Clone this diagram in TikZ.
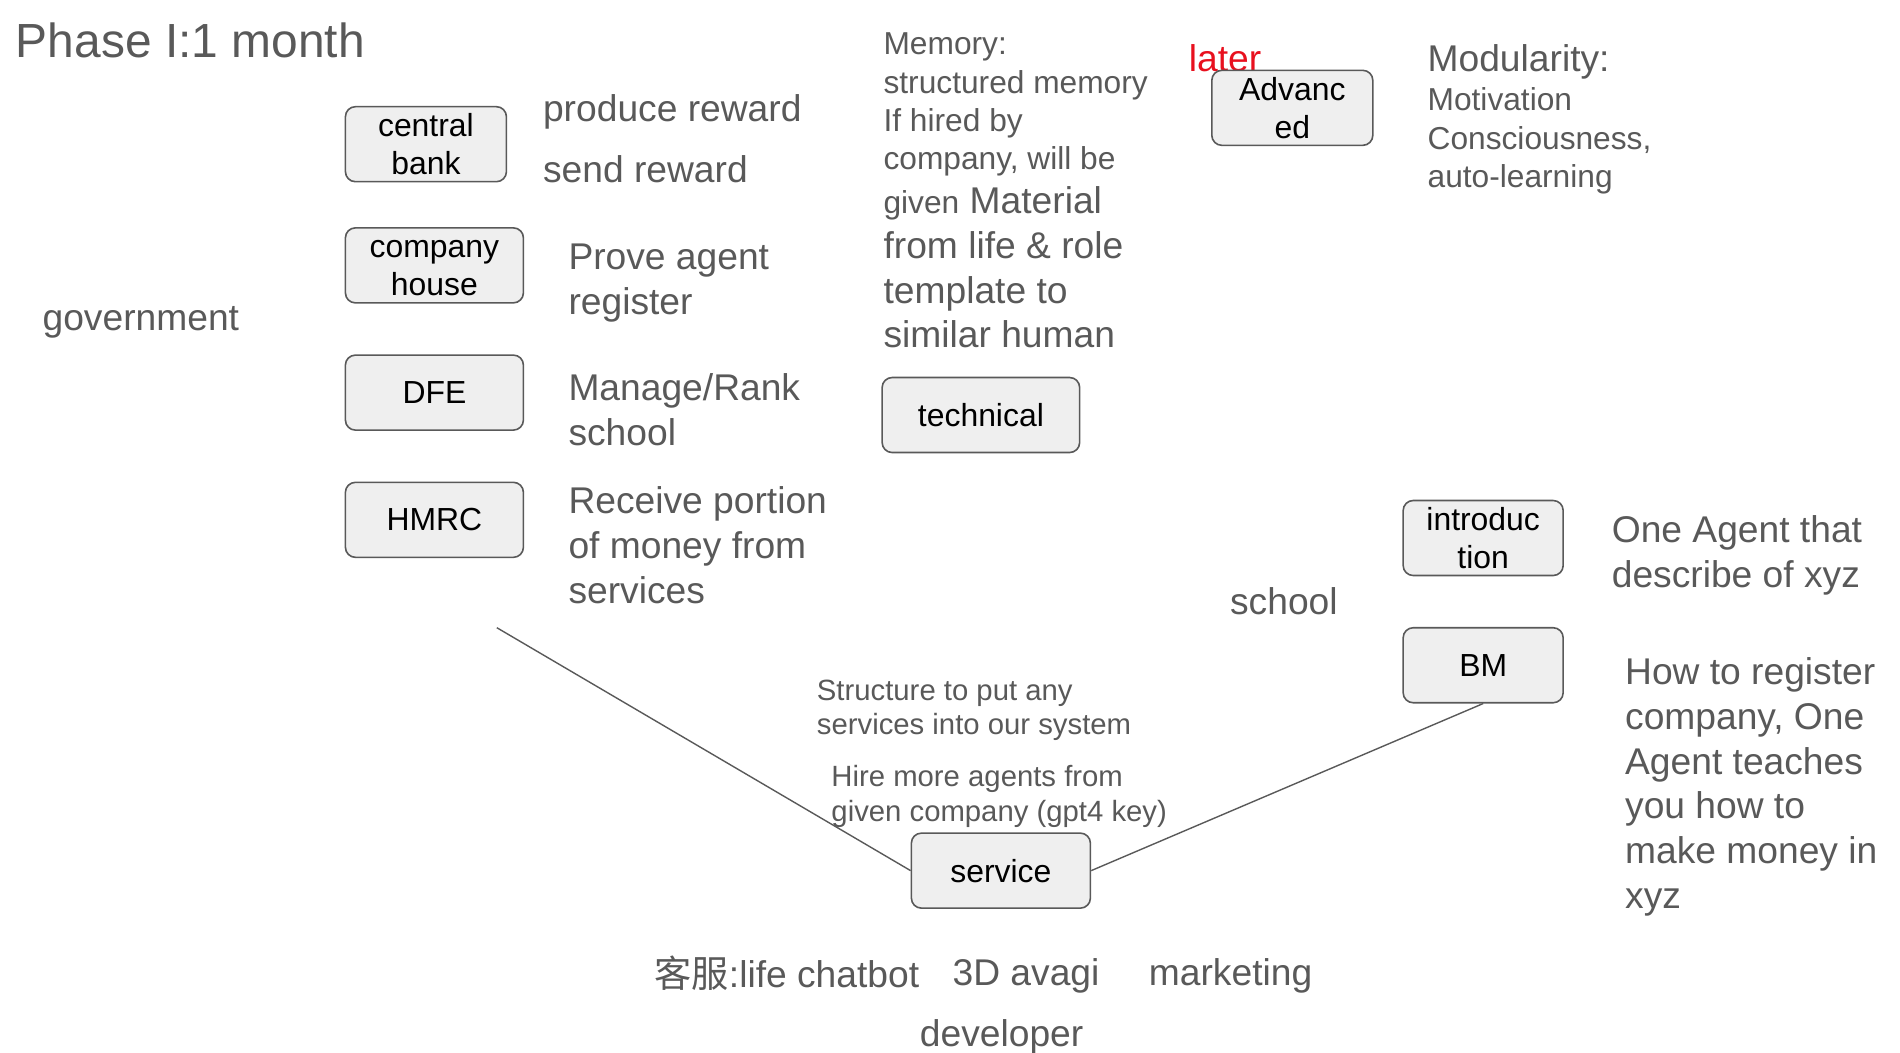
\documentclass[tikz,border=0pt]{standalone}
\usepackage{fontspec}
\setmainfont{Liberation Sans}
\newfontfamily\cjk{Noto Sans CJK SC}
\usepackage{tikz}

\definecolor{txtgray}{HTML}{595959}
\definecolor{boxfill}{HTML}{EFEFEF}
\definecolor{latered}{HTML}{E8101E}

\newcommand\ftitle{\fontsize{47.9pt}{57.5pt}\selectfont}
\newcommand\fbig{\fontsize{37.2pt}{44.8pt}\selectfont}
\newcommand\fmid{\fontsize{31.7pt}{38.2pt}\selectfont}
\newcommand\fsmall{\fontsize{29.3pt}{34.5pt}\selectfont}
\newcommand\fboxlbl{\fontsize{31.9pt}{37.6pt}\selectfont}

\begin{document}
\begin{tikzpicture}[x=1.2117pt, y=-1.2117pt,
  box/.style={draw=txtgray, fill=boxfill, rounded corners=10pt, line width=1.6pt,
    minimum height=75pt, inner sep=0pt, align=center, font=\fboxlbl, text=black},
  note/.style={text=txtgray, inner sep=0pt, align=left}]

\useasboundingbox (0,0) rectangle (1568,869);

\node[note, anchor=base west, font=\ftitle] (title) at (13,47.5) {Phase I:1 month};
\node[note, anchor=base west, font=\fbig] (gov) at (35,273) {government};

\node[box, minimum width=161pt] (cb) at (351.5,119) {central\\bank};
\node[box, minimum width=178pt] (ch) at (358.5,219) {\vphantom{h}company\\house};
\node[box, minimum width=178pt] (dfe) at (358.5,324) {DFE};
\node[box, minimum width=178pt] (hmrc) at (358.5,429) {HMRC};

\node[note, anchor=base west, font=\fbig] (produce) at (448,100.5) {produce reward};
\node[note, anchor=base west, font=\fbig] (send) at (448,150.5) {send reward};
\node[note, anchor=north west, font=\fbig] (prove) at (469,201) {Prove agent\\register};
\node[note, anchor=north west, font=\fbig] (rank) at (469,308.5) {Manage/Rank\\school};
\node[note, anchor=north west, font=\fbig] (portion) at (469,401.5) {Receive portion\\of money from\\services};

\node[note, anchor=north west, font=\fmid] (memory) at (729,27.2) {Memory:\\structured memory\\If hired by\\company, will be};
\node[note, anchor=north west, font=\fbig] (material) at (729,153.7) {{\fmid given} Material\\from life \& role\\template to\\similar human};
\node[box, minimum width=197.5pt] (tech) at (809.5,342.5) {technical};

\node[note, anchor=base west, font=\fbig, text=latered] (later) at (981,58.7) {later};
\node[box, minimum width=161pt] (adv) at (1066.5,89) {Advanc\\ed};
\node[note, anchor=base west, font=\fbig] (modul) at (1178,58.7) {Modularity:};
\node[note, anchor=north west, font=\fmid] (motiv) at (1178,72.4) {Motivation\\Consciousness,\\auto-learning};

\node[box, minimum width=160pt] (intro) at (1224,444) {introduc\\tion};
\node[note, anchor=north west, font=\fbig] (oneagent) at (1330,425.5) {One Agent that\\describe of xyz};
\node[note, anchor=base west, font=\fbig] (school) at (1015,507) {school};
\node[box, minimum width=160pt] (bm) at (1224,549) {BM};
\node[note, anchor=north west, font=\fbig] (howto) at (1341,542.5) {How to register\\company, One\\Agent teaches\\you how to\\make money in\\xyz};

\node[note, anchor=north west, font=\fsmall] (struct) at (674,561) {Structure to put any\\services into our system};
\node[note, anchor=north west, font=\fsmall] (hire) at (686,631.5) {Hire more agents from\\given company (gpt4 key)};
\node[box, minimum width=179pt] (service) at (826,718.5) {service};

\node[note, anchor=base west, font=\fbig] (chatbot) at (540,815) {{\cjk 客服}:life chatbot};
\node[note, anchor=base west, font=\fbig] (avagi) at (786,813.5) {3D avagi};
\node[note, anchor=base west, font=\fbig] (market) at (948,813.5) {marketing};
\node[note, anchor=base west, font=\fbig] (dev) at (759,864) {developer};

\coordinate (govend) at (410,518);
\draw[txtgray, line width=1.4pt] (govend) -- (service.west);
\draw[txtgray, line width=1.4pt] (service.east) -- (bm.south);
\end{tikzpicture}
\end{document}
